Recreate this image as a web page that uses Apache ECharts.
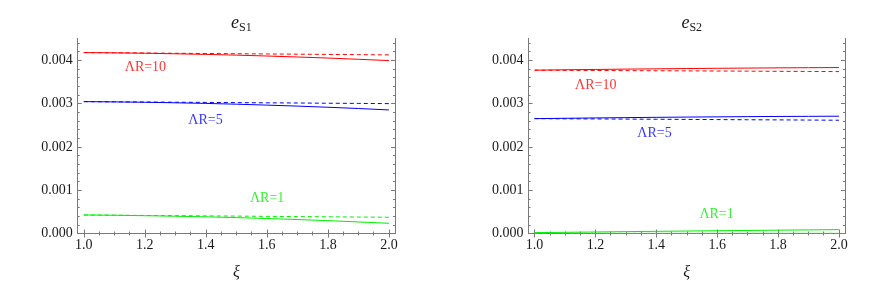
<!DOCTYPE html>
<html><head><meta charset="utf-8">
<script src="https://cdn.jsdelivr.net/npm/echarts@6/dist/echarts.min.js"></script>
<style>html,body{margin:0;padding:0;background:#fff}#c{width:872px;height:286px}</style>
</head><body><div id="c"></div>
<script>
// ---------- data ----------
const xi = [1.0, 1.1, 1.2, 1.3, 1.4, 1.5, 1.6, 1.7, 1.8, 1.9, 2.0];

// panel 1: e_S1
const s1_R10_solid  = [0.004180, 0.0041737, 0.0041647, 0.0041521, 0.0041379, 0.004121, 0.0041005, 0.0040783, 0.0040535, 0.004025, 0.003995];
const s1_R10_dashed = [0.004180, 0.004175, 0.004170, 0.004164, 0.004159, 0.004154, 0.004148, 0.004143, 0.004138, 0.004132, 0.004127];
const s1_R5_solid   = [0.003047, 0.0030405, 0.0030322, 0.0030199, 0.0030056, 0.0029875, 0.0029664, 0.0029435, 0.0029166, 0.002888, 0.002855];
const s1_R5_dashed  = [0.003047, 0.003042, 0.003038, 0.003033, 0.003029, 0.003024, 0.003019, 0.003015, 0.003010, 0.003006, 0.003001];
const s1_R1_solid   = [0.000428, 0.0004216, 0.0004114, 0.0003995, 0.0003848, 0.0003672, 0.000346, 0.0003229, 0.000297, 0.0002674, 0.000236];
const s1_R1_dashed  = [0.000428, 0.000423, 0.000417, 0.000412, 0.000407, 0.000402, 0.000396, 0.000391, 0.000386, 0.000380, 0.000375];

// panel 2: e_S2
const s2_R10_solid  = [0.003773, 0.003782, 0.003790, 0.003798, 0.003805, 0.003811, 0.003817, 0.003822, 0.003827, 0.003831, 0.003834];
const s2_R10_dashed = [0.003773, 0.003770, 0.003767, 0.003763, 0.003760, 0.003757, 0.003754, 0.003751, 0.003747, 0.003744, 0.003741];
const s2_R5_solid   = [0.002654, 0.002662, 0.002670, 0.002677, 0.002684, 0.002690, 0.002695, 0.002700, 0.002704, 0.002707, 0.002710];
const s2_R5_dashed  = [0.002654, 0.002650, 0.002647, 0.002643, 0.002640, 0.002636, 0.002632, 0.002628, 0.002625, 0.002621, 0.002617];
const s2_R1_solid   = [0.000020, 0.000028, 0.000035, 0.000043, 0.000050, 0.000057, 0.000064, 0.000070, 0.000077, 0.000083, 0.000090];
const s2_R1_dashed  = [0.000006, 0.000006, 0.000006, 0.000005, 0.000005, 0.000005, 0.000005, 0.000005, 0.000004, 0.000004, 0.000004];

// tick labels
const xTicks = [1.0, 1.2, 1.4, 1.6, 1.8, 2.0];
const yTicks = [0.000, 0.001, 0.002, 0.003, 0.004];
const xMinorTicks = [];
for (let i = 0; i <= 20; i++) { const v = +(1 + i * 0.05).toFixed(2); if (xTicks.indexOf(v) < 0) xMinorTicks.push(v); }
const yMinorTicks = [];
for (let i = 0; i <= 22; i++) { const v = +(i * 0.0002).toFixed(4); if (yTicks.indexOf(v) < 0) yMinorTicks.push(v); }

// curve annotations
const annoText = ['ΛR=10', 'ΛR=5', 'ΛR=1'];
const annoX1 = [1.202, 1.399, 1.601], annoY1 = [0.003833, 0.002624, 0.000821];
const annoX2 = [1.201, 1.394, 1.598], annoY2 = [0.003434, 0.002324, 0.000435];

const titles = ['S1', 'S2'];
// ---------- chart ----------
const RED = '#ff0000', BLUE = '#0000ff', GREEN = '#00f000';
const FONT = 'Liberation Serif';
const AX = '#7a7a7a';
const TXT = '#1a1a1a';
const XMIN = 0.98, XMAX = 2.02, YMIN = 0, YMAX = 0.00451;

const grids = [
  { left: 77.7, top: 38.3, width: 317.3, height: 195.2 },
  { left: 528.5, top: 38.3, width: 316.5, height: 195.2 }
];
const tickRich = { t: { fontFamily: FONT, fontSize: 14, color: TXT } };

const xAxis = [], yAxis = [];
function addAxes(g) {
  const base = { type: 'value', gridIndex: g, min: XMIN, max: XMAX, splitLine: { show: false } };
  xAxis.push(Object.assign({}, base, {
    position: 'bottom',
    name: '{n|ξ}', nameLocation: 'middle', nameGap: 31,
    nameTextStyle: { fontFamily: FONT, fontStyle: 'italic', fontSize: 16, color: TXT,
      rich: { n: { fontFamily: FONT, fontStyle: 'italic', fontSize: 16, color: TXT } } },
    axisLine: { show: true, lineStyle: { color: AX, width: 1 } },
    axisTick: { show: true, inside: true, length: 4, customValues: xTicks, lineStyle: { color: AX } },
    axisLabel: { show: true, customValues: xTicks, margin: 5, fontFamily: FONT, fontSize: 14, color: TXT,
      rich: tickRich, formatter: v => '{t|' + v.toFixed(1) + '}' }
  }));
  xAxis.push(Object.assign({}, base, {
    position: 'bottom',
    axisLine: { show: false },
    axisTick: { show: true, inside: true, length: 2, customValues: xMinorTicks, lineStyle: { color: AX } },
    axisLabel: { show: false }
  }));
  xAxis.push(Object.assign({}, base, {
    position: 'top',
    axisLine: { show: true, lineStyle: { color: AX, width: 1 } },
    axisTick: { show: true, inside: true, length: 4, customValues: xTicks, lineStyle: { color: AX } },
    axisLabel: { show: false }
  }));
  xAxis.push(Object.assign({}, base, {
    position: 'top',
    axisLine: { show: false },
    axisTick: { show: true, inside: true, length: 2, customValues: xMinorTicks, lineStyle: { color: AX } },
    axisLabel: { show: false }
  }));
  const ybase = { type: 'value', gridIndex: g, min: YMIN, max: YMAX, splitLine: { show: false } };
  yAxis.push(Object.assign({}, ybase, {
    position: 'left',
    axisLine: { show: true, lineStyle: { color: AX, width: 1 } },
    axisTick: { show: true, inside: true, length: 4, customValues: yTicks, lineStyle: { color: AX } },
    axisLabel: { show: true, customValues: yTicks, margin: 5, fontFamily: FONT, fontSize: 14, color: TXT,
      rich: tickRich, formatter: v => '{t|' + v.toFixed(3) + '}' }
  }));
  yAxis.push(Object.assign({}, ybase, {
    position: 'left',
    axisLine: { show: false },
    axisTick: { show: true, inside: true, length: 2, customValues: yMinorTicks, lineStyle: { color: AX } },
    axisLabel: { show: false }
  }));
  yAxis.push(Object.assign({}, ybase, {
    position: 'right',
    axisLine: { show: true, lineStyle: { color: AX, width: 1 } },
    axisTick: { show: true, inside: true, length: 4, customValues: yTicks, lineStyle: { color: AX } },
    axisLabel: { show: false }
  }));
  yAxis.push(Object.assign({}, ybase, {
    position: 'right',
    axisLine: { show: false },
    axisTick: { show: true, inside: true, length: 2, customValues: yMinorTicks, lineStyle: { color: AX } },
    axisLabel: { show: false }
  }));
}
addAxes(0); addAxes(1);

function pairs(ys) { return xi.map((x, i) => [x, ys[i]]); }
function line(g, ys, color, dashed) {
  return {
    type: 'line', xAxisIndex: g * 4, yAxisIndex: g * 4, data: pairs(ys),
    color: color,
    showSymbol: false, symbol: 'none', silent: true, animation: false, z: dashed ? 3 : 4,
    itemStyle: { color: color },
    lineStyle: { color: color, width: 1, type: dashed ? [4, 3] : 'solid', opacity: 1 }
  };
}
function anno(g, xs, ys) {
  const cols = [RED, BLUE, GREEN];
  return {
    type: 'scatter', xAxisIndex: g * 4, yAxisIndex: g * 4, symbolSize: 0, silent: true, animation: false,
    data: xs.map((x, i) => ({
      value: [x, ys[i]],
      label: { show: true, position: 'inside', formatter: '{a|' + annoText[i] + '}',
        rich: { a: { fontFamily: FONT, fontSize: 14, fontWeight: 'normal', color: cols[i] } } }
    }))
  };
}

const series = [
  line(0, s1_R10_dashed, RED, true), line(0, s1_R10_solid, RED, false),
  line(0, s1_R5_dashed, BLUE, true), line(0, s1_R5_solid, BLUE, false),
  line(0, s1_R1_dashed, GREEN, true), line(0, s1_R1_solid, GREEN, false),
  line(1, s2_R10_dashed, RED, true), line(1, s2_R10_solid, RED, false),
  line(1, s2_R5_dashed, BLUE, true), line(1, s2_R5_solid, BLUE, false),
  line(1, s2_R1_dashed, GREEN, true), line(1, s2_R1_solid, GREEN, false),
  anno(0, annoX1, annoY1), anno(1, annoX2, annoY2)
];

const titleRich = {
  e: { fontFamily: FONT, fontStyle: 'italic', fontWeight: 'normal', fontSize: 18, color: TXT, lineHeight: 20 },
  s: { fontFamily: FONT, fontWeight: 'normal', fontSize: 12, color: TXT, padding: [9, 0, 0, 0], lineHeight: 20 }
};
const title = titles.map((t, i) => ({
  text: '{e|e}{s|' + t + '}',
  left: grids[i].left + grids[i].width / 2, top: 8, textAlign: 'center',
  textStyle: { fontWeight: 'normal', fontFamily: FONT, rich: titleRich }
}));

const chart = echarts.init(document.getElementById('c'), null, { renderer: 'canvas' });
chart.setOption({
  animation: false,
  backgroundColor: '#fff',
  title: title,
  grid: grids,
  xAxis: xAxis,
  yAxis: yAxis,
  series: series
});
</script></body></html>
